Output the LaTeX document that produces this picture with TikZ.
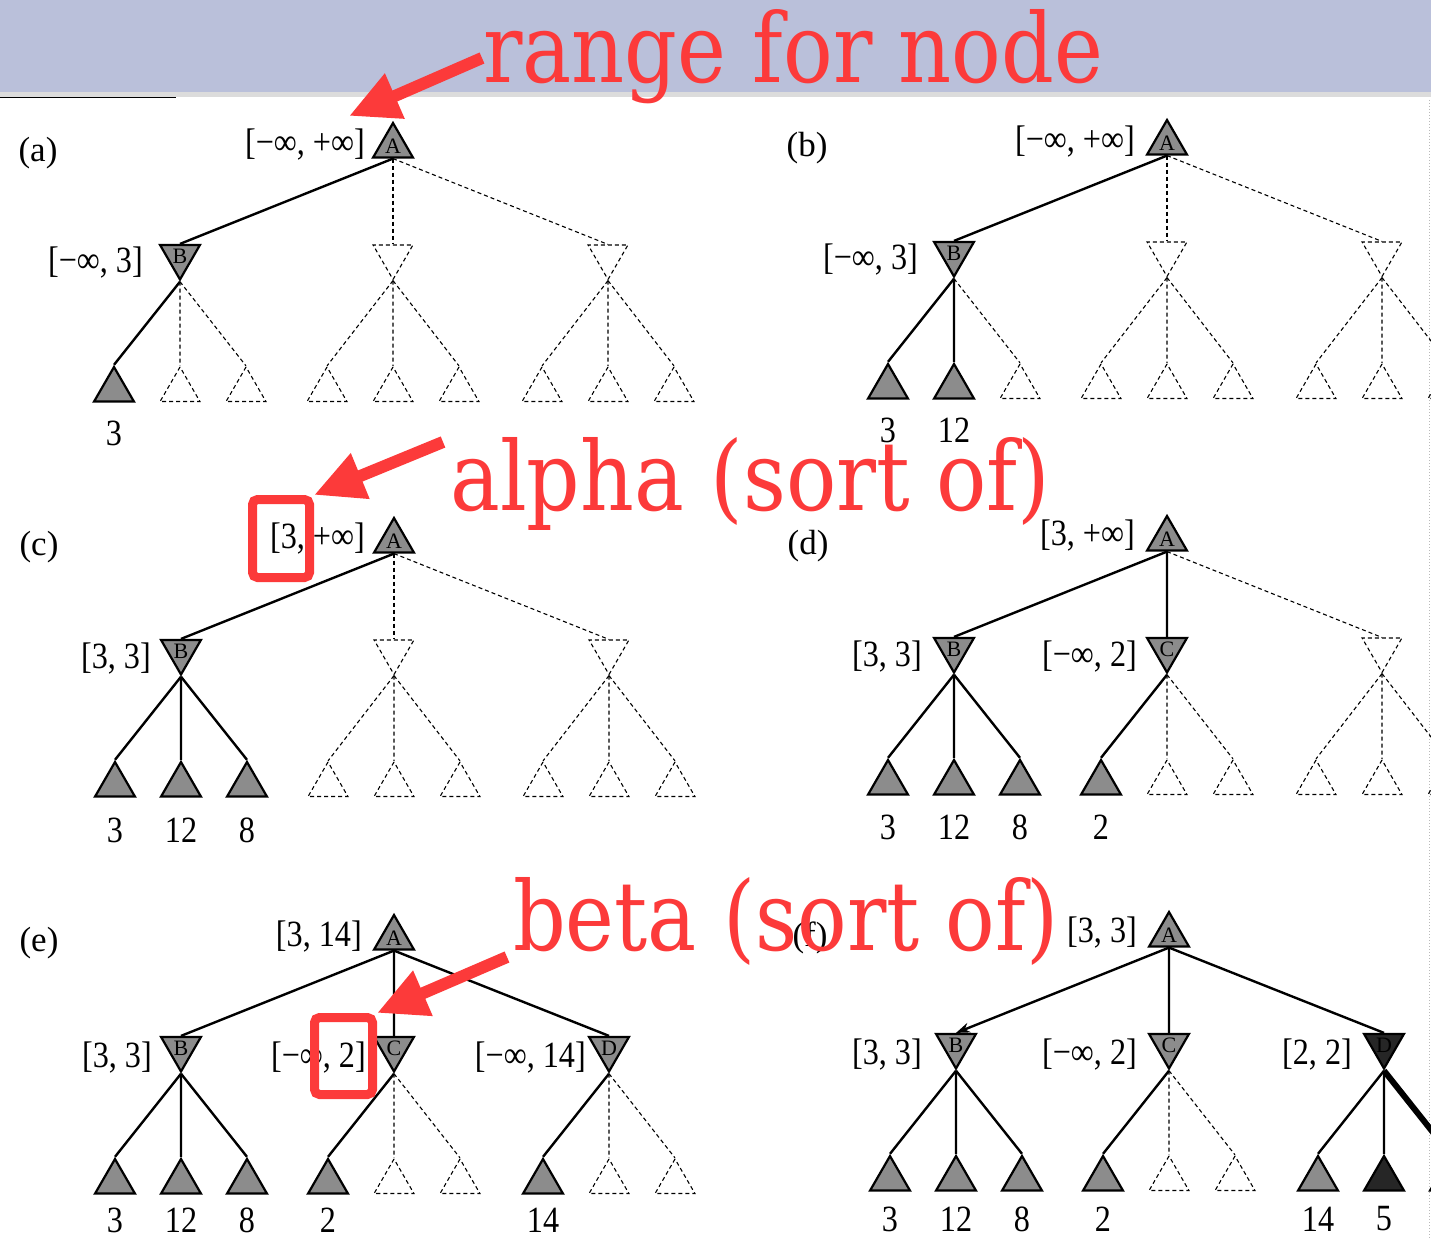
\documentclass[tikz,border=0pt]{standalone}
\usepackage{fontspec}
\setmainfont{Liberation Serif}
\newfontfamily\labfont[FakeStretch=0.87]{Liberation Serif}
\newfontfamily\redfont{DejaVu Serif}
\usetikzlibrary{shapes.geometric,arrows.meta}
\definecolor{hdr}{RGB}{186,192,218}
\definecolor{stripc}{RGB}{220,220,220}
\definecolor{ann}{RGB}{252,58,58}
\tikzset{
  tri/.style={regular polygon, regular polygon sides=3, minimum size=46pt, inner sep=0pt,
    font=\fontsize{22}{22}\selectfont},
  tup/.style={tri},
  tdown/.style={tri, shape border rotate=180},
  tfull/.style={draw=black, fill=black!45, line width=2.2pt},
  tdark/.style={draw=black, fill=black!85, line width=2.2pt},
  tghost/.style={draw=black, line width=1.1pt, dash pattern=on 4pt off 3pt, text opacity=0},
  solidedge/.style={draw=black, line width=2.4pt},
  ghostedge/.style={draw=black, line width=1.1pt, dash pattern=on 4pt off 3pt},
  mB/.style={tghost}, mC/.style={tghost}, mD/.style={tghost},
  l1/.style={tghost}, l2/.style={tghost}, l3/.style={tghost},
  l4/.style={tghost}, l5/.style={tghost}, l6/.style={tghost},
  l7/.style={tghost}, l8/.style={tghost}, l9/.style={tghost},
  eB/.style={ghostedge}, eC/.style={ghostedge}, eD/.style={ghostedge},
  g1/.style={ghostedge}, g2/.style={ghostedge}, g3/.style={ghostedge},
  g4/.style={ghostedge}, g5/.style={ghostedge}, g6/.style={ghostedge},
  g7/.style={ghostedge}, g8/.style={ghostedge}, g9/.style={ghostedge},
  rng/.style={font=\labfont\fontsize{37}{37}\selectfont, inner sep=0pt, anchor=east},
  val/.style={font=\labfont\fontsize{37}{37}\selectfont, inner sep=0pt},
  plabel/.style={font=\fontsize{35}{35}\selectfont, inner sep=0pt},
  annot/.style={text=ann, inner sep=0pt, anchor=base west},
  annarrow/.style={draw=ann, line width=12pt, -{Triangle[length=50pt,width=46pt]}},
  redbox/.style={draw=ann, line width=9pt, rounded corners=5pt, inner sep=0pt},
}
\newcommand\mytree[1]{%
  \node[tup,tfull] (#1A) at (0,23) {A};
  \node[tdown,mB] (#1B) at (-213,133.5) {B};
  \node[tdown,mC] (#1C) at (0,133.5) {C};
  \node[tdown,mD] (#1D) at (215,133.5) {D};
  \node[tup,l1] (#1L1) at (-279,267) {};
  \node[tup,l2] (#1L2) at (-213,267) {};
  \node[tup,l3] (#1L3) at (-147,267) {};
  \node[tup,l4] (#1L4) at (-66,267) {};
  \node[tup,l5] (#1L5) at (0,267) {};
  \node[tup,l6] (#1L6) at (66,267) {};
  \node[tup,l7] (#1L7) at (149,267) {};
  \node[tup,l8] (#1L8) at (215,267) {};
  \node[tup,l9] (#1L9) at (281,267) {};
  \draw[eB] (#1A.south) -- (#1B.north);
  \draw[eC] (#1A.south) -- (#1C.north);
  \draw[eD] (#1A.south) -- (#1D.north);
  \draw[g1] (#1B.south) -- (#1L1.north);
  \draw[g2] (#1B.south) -- (#1L2.north);
  \draw[g3] (#1B.south) -- (#1L3.north);
  \draw[g4] (#1C.south) -- (#1L4.north);
  \draw[g5] (#1C.south) -- (#1L5.north);
  \draw[g6] (#1C.south) -- (#1L6.north);
  \draw[g7] (#1D.south) -- (#1L7.north);
  \draw[g8] (#1D.south) -- (#1L8.north);
  \draw[g9] (#1D.south) -- (#1L9.north);
}
\begin{document}
\begin{tikzpicture}[x=1pt,y=-1pt]
\useasboundingbox (0,0) rectangle (1431,1238);
\clip (0,0) rectangle (1431,1238);
\fill[white] (0,0) rectangle (1431,1238);
% header band
\fill[hdr] (0,0) rectangle (1431,92);
\fill[stripc] (0,92) rectangle (1431,97);
\draw[line width=1.5pt] (0,97.5) -- (176,97.5);
\draw[gray!55, line width=1pt, dotted] (1429.5,100) -- (1429.5,1238);

% panel labels
\node[plabel] (pa) at (38,153) {(a)};
\node[plabel] (pb) at (807,148) {(b)};
\node[plabel] (pc) at (39,547) {(c)};
\node[plabel] (pd) at (808,546) {(d)};
\node[plabel] (pe) at (39,943) {(e)};
\node[plabel] (pf) at (810,938) {(f)};

% (a)
\begin{scope}[shift={(393,123)}, mB/.style={tfull}, l1/.style={tfull},
  eB/.style={solidedge}, g1/.style={solidedge}]
  \mytree{a}
  \node[rng] (aRA) at (-28,22) {[−∞, +∞]};
  \node[rng] (aRB) at (-250,140) {[−∞, 3]};
  \node[val] (aV1) at (-279,310) {3};
\end{scope}

% (b)
\begin{scope}[shift={(1167,120)}, mB/.style={tfull}, l1/.style={tfull}, l2/.style={tfull},
  eB/.style={solidedge}, g1/.style={solidedge}, g2/.style={solidedge}]
  \mytree{b}
  \node[rng] (bRA) at (-32,22) {[−∞, +∞]};
  \node[rng] (bRB) at (-249,140) {[−∞, 3]};
  \node[val] (bV1) at (-279,310) {3};
  \node[val] (bV2) at (-213,310) {12};
\end{scope}

% (c)
\begin{scope}[shift={(394,518)}, mB/.style={tfull}, l1/.style={tfull}, l2/.style={tfull},
  l3/.style={tfull}, eB/.style={solidedge}, g1/.style={solidedge}, g2/.style={solidedge},
  g3/.style={solidedge}]
  \mytree{c}
  \node[rng] (cRA) at (-29,21) {[3, +∞]};
  \node[rng] (cRB) at (-243,141) {[3, 3]};
  \node[val] (cV1) at (-279,312) {3};
  \node[val] (cV2) at (-213,312) {12};
  \node[val] (cV3) at (-147,312) {8};
\end{scope}

% (d)
\begin{scope}[shift={(1167,516)}, mB/.style={tfull}, mC/.style={tfull},
  l1/.style={tfull}, l2/.style={tfull}, l3/.style={tfull}, l4/.style={tfull},
  eB/.style={solidedge}, eC/.style={solidedge}, g1/.style={solidedge},
  g2/.style={solidedge}, g3/.style={solidedge}, g4/.style={solidedge}]
  \mytree{d}
  \node[rng] (dRA) at (-32,20) {[3, +∞]};
  \node[rng] (dRB) at (-245,141) {[3, 3]};
  \node[rng] (dRC) at (-30,141) {[−∞, 2]};
  \node[val] (dV1) at (-279,311) {3};
  \node[val] (dV2) at (-213,311) {12};
  \node[val] (dV3) at (-147,311) {8};
  \node[val] (dV4) at (-66,311) {2};
\end{scope}

% (e)
\begin{scope}[shift={(394,915)}, mB/.style={tfull}, mC/.style={tfull}, mD/.style={tfull},
  l1/.style={tfull}, l2/.style={tfull}, l3/.style={tfull}, l4/.style={tfull}, l7/.style={tfull},
  eB/.style={solidedge}, eC/.style={solidedge}, eD/.style={solidedge},
  g1/.style={solidedge}, g2/.style={solidedge}, g3/.style={solidedge},
  g4/.style={solidedge}, g7/.style={solidedge}]
  \mytree{e}
  \node[rng] (eRA) at (-32,21) {[3, 14]};
  \node[rng] (eRB) at (-242,142) {[3, 3]};
  \node[rng] (eRC) at (-28,142) {[−∞, 2]};
  \node[rng] (eRD) at (192,142) {[−∞, 14]};
  \node[val] (eV1) at (-279,305) {3};
  \node[val] (eV2) at (-213,305) {12};
  \node[val] (eV3) at (-147,305) {8};
  \node[val] (eV4) at (-66,305) {2};
  \node[val] (eV7) at (149,305) {14};
\end{scope}

% (f)
\begin{scope}[shift={(1169,912)}, mB/.style={tfull}, mC/.style={tfull}, mD/.style={tdark},
  l1/.style={tfull}, l2/.style={tfull}, l3/.style={tfull}, l4/.style={tfull},
  l7/.style={tfull}, l8/.style={tdark}, l9/.style={tdark},
  eB/.style={solidedge, -{Stealth[length=14pt,width=10pt]}}, eC/.style={solidedge}, eD/.style={solidedge},
  g1/.style={solidedge}, g2/.style={solidedge}, g3/.style={solidedge},
  g4/.style={solidedge}, g7/.style={solidedge}, g8/.style={solidedge},
  g9/.style={draw=black, line width=6pt}]
  \mytree{f}
  \node[rng] (fRA) at (-32,20) {[3, 3]};
  \node[rng] (fRB) at (-247,142) {[3, 3]};
  \node[rng] (fRC) at (-32,142) {[−∞, 2]};
  \node[rng] (fRD) at (183,142) {[2, 2]};
  \node[val] (fV1) at (-279,307) {3};
  \node[val] (fV2) at (-213,307) {12};
  \node[val] (fV3) at (-147,307) {8};
  \node[val] (fV4) at (-66,307) {2};
  \node[val] (fV7) at (149,307) {14};
  \node[val] (fV8) at (215,307) {5};
\end{scope}

% annotations
\node[annot] (ann1) at (483,83) {\resizebox{620pt}{73pt}{\redfont range for node}};
\node[annot] (ann2) at (450,510) {\resizebox{600pt}{73pt}{\redfont alpha (sort of)}};
\node[annot] (ann3) at (513,950) {\resizebox{545pt}{73pt}{\redfont beta (sort of)}};
\node[redbox, minimum width=57pt, minimum height=78pt] (box1) at (281,538.5) {};
\node[redbox, minimum width=58pt, minimum height=77pt] (box2) at (343.5,1056) {};
\coordinate (t1) at (482,58);
\coordinate (h1) at (349,116);
\coordinate (t2) at (443,442);
\coordinate (t3) at (507,957);
\draw[annarrow] (t1) -- (h1);
\draw[annarrow] (t2) -- (box1.north east);
\draw[annarrow] (t3) -- (box2.north east);
\end{tikzpicture}
\end{document}
